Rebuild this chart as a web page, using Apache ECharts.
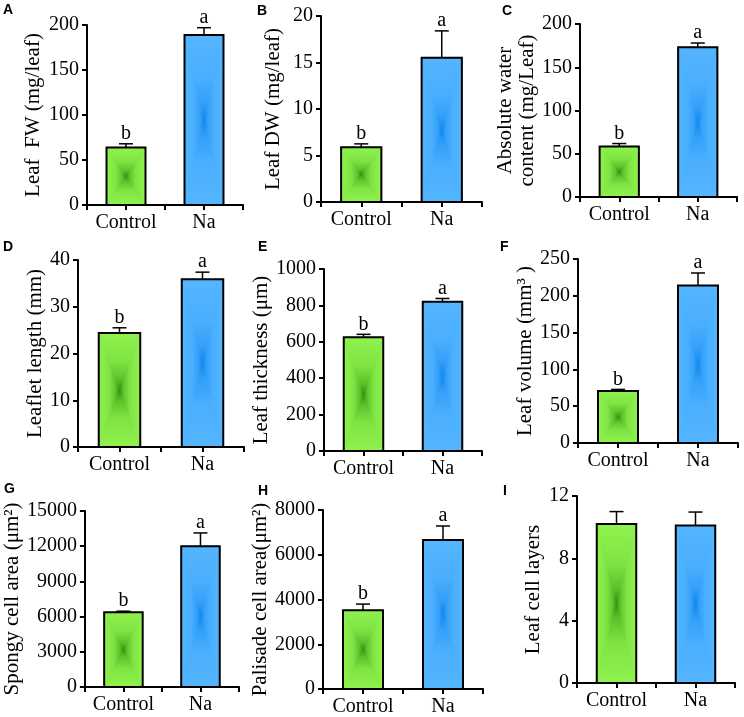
<!DOCTYPE html>
<html>
<head>
<meta charset="utf-8">
<script src="https://cdn.jsdelivr.net/npm/echarts@6/dist/echarts.min.js"></script>
<style>
html,body{margin:0;padding:0;background:#fff;}
#chart{width:744px;height:717px;}
</style>
</head>
<body>
<div id="chart"></div>
<script>
// ---- data ----
const categories = ['Control', 'Na'];
const panelLetters = ['A', 'B', 'C', 'D', 'E', 'F', 'G', 'H', 'I'];
const yTitles = [
  'Leaf  FW (mg/leaf)',
  'Leaf DW (mg/leaf)',
  'Absolute water\ncontent (mg/Leaf)',
  'Leaflet length (mm)',
  'Leaf thickness (\u03bcm)',
  'Leaf volume (mm\u00b3 )',
  'Spongy cell area (\u03bcm\u00b2)',
  'Palisade cell area(\u03bcm\u00b2)',
  'Leaf cell layers'
];
const yMax = [200, 20, 200, 40, 1000, 250, 15000, 8000, 12];
const yInterval = [50, 5, 50, 10, 200, 50, 3000, 2000, 4];
const controlMean = [64, 5.9, 58.5, 24.4, 625, 70.8, 6380, 3525, 10.2];
const controlErr = [4, 0.35, 3.3, 1.1, 16, 2, 80, 270, 0.8];
const naMean = [189, 15.5, 173, 35.9, 820, 214, 12000, 6660, 10.1];
const naErr = [8, 2.9, 5, 1.5, 18, 17, 1130, 625, 0.87];
const controlSig = ['b', 'b', 'b', 'b', 'b', 'b', 'b', 'b', ''];
const naSig = ['a', 'a', 'a', 'a', 'a', 'a', 'a', 'a', ''];

// ---- layout ----
const grids = [
  {left: 87, top: 25, width: 156, height: 180},
  {left: 321, top: 16, width: 161, height: 186},
  {left: 580, top: 24, width: 157, height: 173},
  {left: 78, top: 260, width: 166, height: 187},
  {left: 324, top: 269, width: 158, height: 182},
  {left: 578, top: 259, width: 160, height: 184},
  {left: 82, top: 511, width: 157, height: 176},
  {left: 323, top: 510, width: 160, height: 179},
  {left: 577, top: 496, width: 158, height: 187}
];
const nameGaps = [43, 37, 38, 30, 43, 36, 57, 42, 33];
const letterPos = [
  [3, 3], [257, 4], [502, 4],
  [3, 240], [258, 240], [500, 240],
  [4, 482], [258, 484], [503, 484]
];

const SERIF = '"Liberation Serif", "Times New Roman", serif';
const palettes = [
  {light: '#90F24E', mid: '#7FE443', mid2: '#5CC42C', dark: '#2E9210'},
  {light: '#55B5FF', mid: '#4AAFFF', mid2: '#33A0F8', dark: '#1287EE'}
];

function grad(x, y, x2, y2, p) {
  return new echarts.graphic.LinearGradient(x, y, x2, y2, [
    {offset: 0, color: p.light},
    {offset: 0.5, color: p.mid},
    {offset: 0.8, color: p.mid2},
    {offset: 1, color: p.dark}
  ]);
}

function labelFor(si, xi) {
  return xi === 0 ? controlSig[si] : naSig[si];
}

function renderItem(params, api) {
  const xi = api.value(0), v = api.value(1), e = api.value(2);
  const top = api.coord([xi, v]);
  const base = api.coord([xi, 0]);
  const capPt = api.coord([xi, v + e]);
  const bw = api.size([1, 0])[0] * 0.5;
  const cx = top[0];
  const x0 = cx - bw / 2, x1 = cx + bw / 2, y0 = top[1], y1 = base[1];
  const cy = (y0 + y1) / 2;
  const p = palettes[xi];
  const tri = (pts, g) => ({
    type: 'polygon', shape: {points: pts},
    style: {fill: g, stroke: g, lineWidth: 0.6}
  });
  const letter = labelFor(params.seriesIndex, xi);
  const children = [
    {type: 'rect', shape: {x: x0, y: y0, width: bw, height: y1 - y0}, style: {fill: p.mid2}},
    tri([[x0, y0], [x0, y1], [cx, cy]], grad(0, 0, 1, 0, p)),
    tri([[x1, y0], [x1, y1], [cx, cy]], grad(1, 0, 0, 0, p)),
    tri([[x0, y0], [x1, y0], [cx, cy]], grad(0, 0, 0, 1, p)),
    tri([[x0, y1], [x1, y1], [cx, cy]], grad(0, 1, 0, 0, p)),
    {type: 'rect', shape: {x: x0, y: y0, width: bw, height: y1 - y0},
     style: {fill: null, stroke: '#000', lineWidth: 2}},
    {type: 'line', shape: {x1: cx, y1: y0, x2: cx, y2: capPt[1]},
     style: {stroke: '#000', lineWidth: 1.5}},
    {type: 'line', shape: {x1: cx - 7, y1: capPt[1], x2: cx + 7, y2: capPt[1]},
     style: {stroke: '#000', lineWidth: 1.5}}
  ];
  if (letter) {
    children.push({type: 'text', style: {
      x: cx, y: capPt[1], text: letter, fill: '#000',
      font: '20px ' + SERIF, align: 'center', verticalAlign: 'bottom'
    }});
  }
  return {type: 'group', children};
}

const option = {
  animation: false,
  backgroundColor: '#fff',
  grid: [], xAxis: [], yAxis: [], series: [],
  graphic: []
};

for (let i = 0; i < 9; i++) {
  option.grid.push(Object.assign({containLabel: false}, grids[i]));
  option.xAxis.push({
    type: 'category', gridIndex: i, data: categories, position: 'bottom',
    axisLine: {show: true, lineStyle: {color: '#000', width: 2}},
    axisTick: {show: true, alignWithLabel: true, interval: 0, length: 5, lineStyle: {color: '#000', width: 2}},
    axisLabel: {color: '#000', fontFamily: SERIF, fontSize: 20, margin: 8, interval: 0, hideOverlap: false}
  });
  option.xAxis.push({
    type: 'category', gridIndex: i, data: categories, position: 'bottom', offset: 0,
    axisLine: {show: false},
    axisTick: {show: true, alignWithLabel: false, interval: 0, length: 5, lineStyle: {color: '#000', width: 2}},
    axisLabel: {show: false, interval: 0}
  });
  option.yAxis.push({
    type: 'value', gridIndex: i, min: 0, max: yMax[i], interval: yInterval[i],
    name: yTitles[i], nameLocation: 'middle', nameGap: nameGaps[i],
    nameTextStyle: {color: '#000', fontFamily: SERIF, fontSize: 21, lineHeight: 22},
    axisLine: {show: true, lineStyle: {color: '#000', width: 2}},
    axisTick: {show: true, length: 5, lineStyle: {color: '#000', width: 2}},
    axisLabel: {color: '#000', fontFamily: SERIF, fontSize: 20, margin: 8,
      formatter: function (val) { return String(val); }},
    splitLine: {show: false}
  });
  option.series.push({
    type: 'custom', xAxisIndex: i * 2, yAxisIndex: i,
    renderItem: renderItem,
    data: [[0, controlMean[i], controlErr[i]], [1, naMean[i], naErr[i]]],
    z: 3
  });
  option.graphic.push({
    type: 'text', left: letterPos[i][0], top: letterPos[i][1],
    style: {text: panelLetters[i], fill: '#000', font: 'bold 14px "Liberation Sans", Arial, sans-serif'}
  });
}

const chart = echarts.init(document.getElementById('chart'), null, {renderer: 'canvas'});
chart.setOption(option);
</script>
</body>
</html>
